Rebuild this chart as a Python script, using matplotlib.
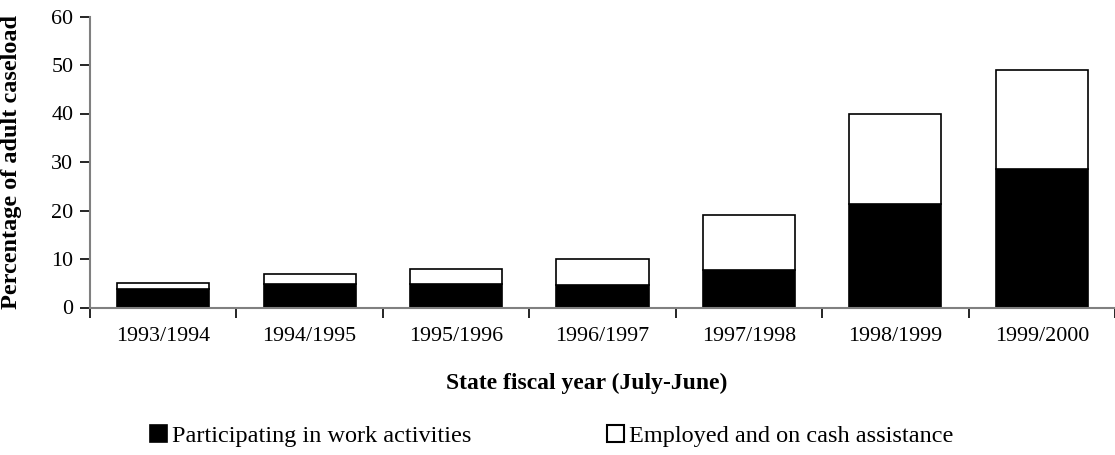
import matplotlib
matplotlib.use("Agg")
import matplotlib.pyplot as plt
import numpy as np
from matplotlib.patches import Patch

# datos
years = ["1993/1994", "1994/1995", "1995/1996", "1996/1997",
         "1997/1998", "1998/1999", "1999/2000"]
work = [3.9, 4.8, 4.9, 4.7, 7.7, 21.3, 28.6]
total = [5.0, 7.0, 8.0, 10.0, 19.0, 40.0, 49.0]
employed = [t - w for t, w in zip(total, work)]

plt.rcParams['font.family'] = ['Liberation Serif', 'DejaVu Serif']

fig = plt.figure(figsize=(11.15, 4.55), dpi=100)
W, H = 1115, 455
ax = fig.add_axes([90 / W, 1 - 307.5 / H, (1115 - 90) / W, (307.5 - 16.5) / H])

x = np.arange(len(years))
ax.bar(x, work, width=0.63, color='black', edgecolor='black', linewidth=1.2, zorder=2)
ax.bar(x, employed, bottom=work, width=0.63, color='white', edgecolor='black',
       linewidth=1.2, zorder=2)

ax.set_xlim(-0.5, -0.5 + (1115 - 90) / 147.5)
ax.set_ylim(0, 60)
ax.set_yticks(range(0, 61, 10))
ax.set_xticks(x)
ax.set_xticklabels(years, fontsize=15.8)
ax.set_xticks(np.arange(-0.5, 7, 1), minor=True)
ax.tick_params(axis='x', which='major', length=0, pad=14)
ax.tick_params(axis='x', which='minor', length=7, width=1.2, color='black')
ax.tick_params(axis='y', labelsize=15.8, length=7, width=1.2, pad=5)

for s in ['top', 'right']:
    ax.spines[s].set_visible(False)
for s in ['left', 'bottom']:
    ax.spines[s].set_color('#808080')
    ax.spines[s].set_linewidth(1.5)

ax.set_ylabel('Percentage of adult caseload', fontsize=17.5, fontweight='bold')
ax.yaxis.set_label_coords(-(90 - 22) / (1115 - 90), 0.5)

fig.text(587 / W, 1 - 383 / H, 'State fiscal year (July-June)', fontsize=17,
         fontweight='bold', ha='center', va='center')

handles = [Patch(facecolor='black', edgecolor='black', linewidth=1.2),
           Patch(facecolor='white', edgecolor='black', linewidth=1.5)]
fig.legend(handles, ['Participating in work activities', 'Employed and on cash assistance'],
           loc='center left', bbox_to_anchor=(150 / W, 1 - 436 / H), ncol=2,
           frameon=False, fontsize=17.5, handlelength=0.7, handleheight=0.7,
           handletextpad=0.2, columnspacing=5.6, borderaxespad=0, borderpad=0)

fig.savefig('out.png', dpi=100)
